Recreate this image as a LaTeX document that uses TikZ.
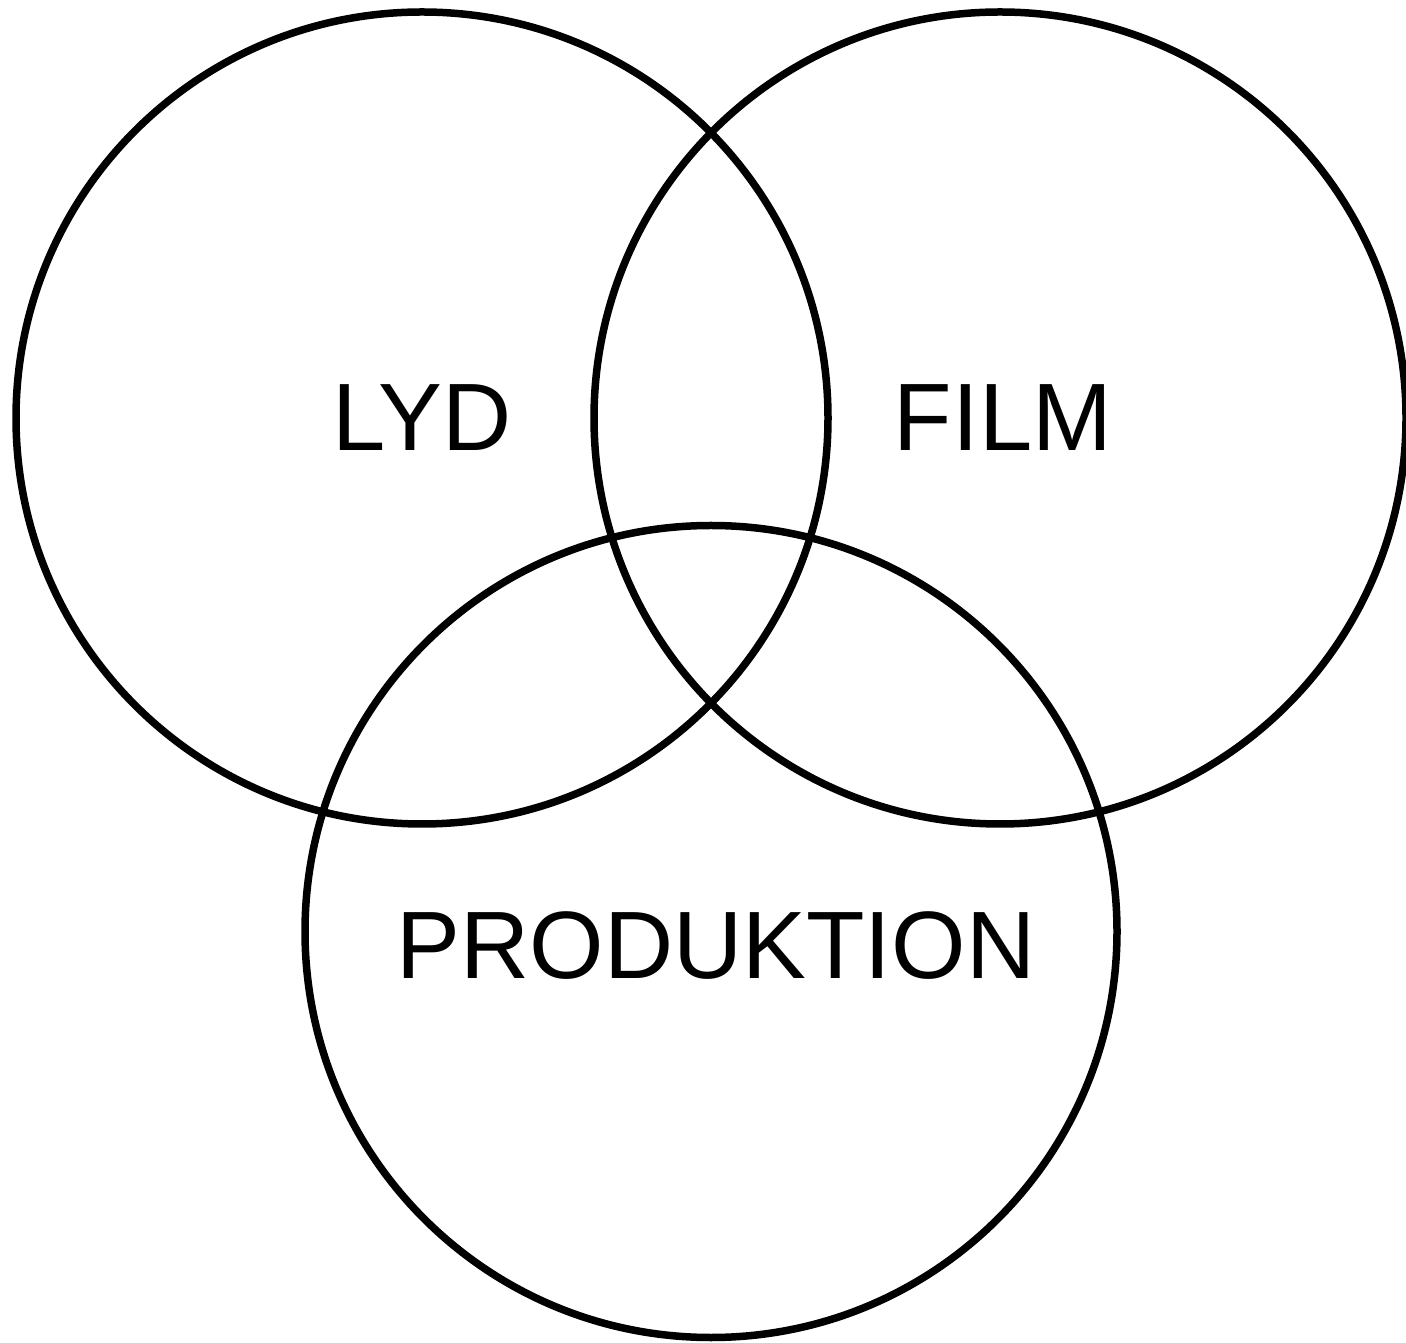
\documentclass[tikz,border=0pt]{standalone}
\usepackage{fontspec}
\setmainfont{Liberation Sans}
\usetikzlibrary{positioning}
\tikzset{
  ring/.style={
    circle, draw=black, line width=0.15cm, fill=none,
    minimum size=16.24cm, inner sep=0pt
  },
  word/.style={
    inner sep=0pt, font=\fontsize{54.5}{66}\selectfont
  }
}

\begin{document}
\begin{tikzpicture}
    \useasboundingbox (0,0) rectangle (28.12,26.84);
    \node[ring] (lyd) at (8.44,18.48) {};
    \node[ring] (film) at (20.0,18.48) {};
    \node[ring] (prod) at (14.22,8.21) {};
    \node[word] (lydtxt) at (lyd) {LYD};
    \node[word,xshift=0.06cm] (filmtxt) at (film) {FILM};
    \node[word,xshift=0.1cm,yshift=-0.28cm] (prodtxt) at (prod) {PRODUKTION};
  \end{tikzpicture}
\end{document}
